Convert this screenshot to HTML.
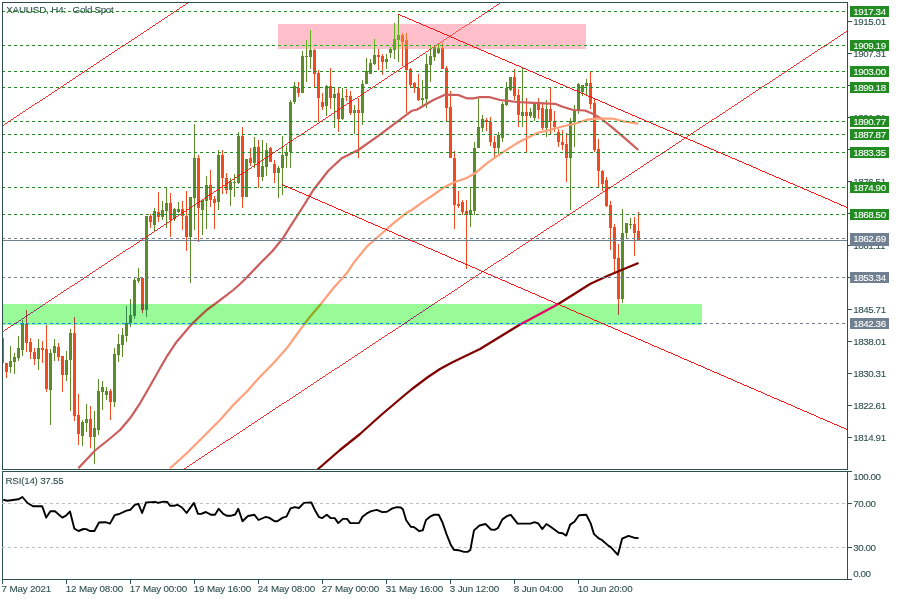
<!DOCTYPE html>
<html><head><meta charset="utf-8"><title>XAUUSD, H4</title>
<style>
html,body{margin:0;padding:0;background:#fff;}
svg{display:block}
text{font-family:"Liberation Sans",sans-serif;font-size:9.8px;letter-spacing:-0.42px;fill:#2f4f4f;stroke:#2f4f4f;stroke-width:0.1px}
.w{fill:#fff;stroke:#fff}
</style></head><body>
<svg width="900" height="600" viewBox="0 0 900 600">
<defs>
<clipPath id="cm"><rect x="3" y="3" width="844" height="466"/></clipPath>
<clipPath id="cg"><rect x="3" y="304" width="699" height="21"/></clipPath>
<clipPath id="cp"><rect x="278" y="24" width="308" height="25"/></clipPath>
</defs>
<rect width="900" height="600" fill="#fff"/>
<g shape-rendering="crispEdges">
<g clip-path="url(#cm)">

<g shape-rendering="auto"><text x="6.2" y="12.8" style="letter-spacing:-0.155px">XAUUSD, H4:</text><text x="72.6" y="12.8" style="letter-spacing:-0.31px">Gold Spot</text></g>
<rect x="2" y="338" width="1" height="25" fill="#f04a1e"/>
<rect x="1" y="338" width="3" height="25" fill="#f04a1e"/>
<rect x="6" y="363" width="1" height="15" fill="#f04a1e"/>
<rect x="5" y="363" width="3" height="9" fill="#f04a1e"/>
<rect x="10" y="346" width="1" height="27" fill="#5c8c28"/>
<rect x="9" y="361" width="3" height="6" fill="#5c8c28"/>
<rect x="14" y="353" width="1" height="21" fill="#5c8c28"/>
<rect x="13" y="357" width="3" height="5" fill="#5c8c28"/>
<rect x="18" y="336" width="1" height="25" fill="#5c8c28"/>
<rect x="17" y="348" width="3" height="10" fill="#5c8c28"/>
<rect x="22" y="320" width="1" height="36" fill="#5c8c28"/>
<rect x="21" y="323" width="3" height="27" fill="#5c8c28"/>
<rect x="26" y="310" width="1" height="42" fill="#f04a1e"/>
<rect x="25" y="324" width="3" height="19" fill="#f04a1e"/>
<rect x="30" y="338" width="1" height="21" fill="#f04a1e"/>
<rect x="29" y="342" width="3" height="10" fill="#f04a1e"/>
<rect x="34" y="348" width="1" height="17" fill="#f04a1e"/>
<rect x="33" y="352" width="3" height="7" fill="#f04a1e"/>
<rect x="38" y="339" width="1" height="31" fill="#5c8c28"/>
<rect x="37" y="348" width="3" height="11" fill="#5c8c28"/>
<rect x="42" y="341" width="1" height="22" fill="#f04a1e"/>
<rect x="41" y="348" width="3" height="2" fill="#f04a1e"/>
<rect x="46" y="325" width="1" height="67" fill="#f04a1e"/>
<rect x="45" y="349" width="3" height="40" fill="#f04a1e"/>
<rect x="50" y="349" width="1" height="76" fill="#5c8c28"/>
<rect x="49" y="353" width="3" height="37" fill="#5c8c28"/>
<rect x="54" y="339" width="1" height="22" fill="#5c8c28"/>
<rect x="53" y="346" width="3" height="7" fill="#5c8c28"/>
<rect x="58" y="343" width="1" height="18" fill="#f04a1e"/>
<rect x="57" y="347" width="3" height="10" fill="#f04a1e"/>
<rect x="62" y="356" width="1" height="36" fill="#f04a1e"/>
<rect x="61" y="356" width="3" height="19" fill="#f04a1e"/>
<rect x="66" y="351" width="1" height="30" fill="#5c8c28"/>
<rect x="65" y="360" width="3" height="15" fill="#5c8c28"/>
<rect x="70" y="329" width="1" height="82" fill="#5c8c28"/>
<rect x="69" y="333" width="3" height="27" fill="#5c8c28"/>
<rect x="74" y="317" width="1" height="104" fill="#f04a1e"/>
<rect x="73" y="333" width="3" height="83" fill="#f04a1e"/>
<rect x="78" y="394" width="1" height="51" fill="#f04a1e"/>
<rect x="77" y="415" width="3" height="19" fill="#f04a1e"/>
<rect x="82" y="420" width="1" height="26" fill="#5c8c28"/>
<rect x="81" y="422" width="3" height="14" fill="#5c8c28"/>
<rect x="86" y="404" width="1" height="28" fill="#5c8c28"/>
<rect x="85" y="419" width="3" height="4" fill="#5c8c28"/>
<rect x="90" y="406" width="1" height="42" fill="#f04a1e"/>
<rect x="89" y="419" width="3" height="18" fill="#f04a1e"/>
<rect x="94" y="411" width="1" height="53" fill="#5c8c28"/>
<rect x="93" y="428" width="3" height="9" fill="#5c8c28"/>
<rect x="98" y="379" width="1" height="56" fill="#5c8c28"/>
<rect x="97" y="391" width="3" height="39" fill="#5c8c28"/>
<rect x="102" y="381" width="1" height="29" fill="#5c8c28"/>
<rect x="101" y="387" width="3" height="5" fill="#5c8c28"/>
<rect x="106" y="387" width="1" height="13" fill="#5c8c28"/>
<rect x="105" y="391" width="3" height="4" fill="#5c8c28"/>
<rect x="110" y="389" width="1" height="31" fill="#f04a1e"/>
<rect x="109" y="391" width="3" height="11" fill="#f04a1e"/>
<rect x="114" y="348" width="1" height="59" fill="#5c8c28"/>
<rect x="113" y="354" width="3" height="48" fill="#5c8c28"/>
<rect x="118" y="334" width="1" height="28" fill="#5c8c28"/>
<rect x="117" y="344" width="3" height="11" fill="#5c8c28"/>
<rect x="122" y="328" width="1" height="29" fill="#5c8c28"/>
<rect x="121" y="335" width="3" height="10" fill="#5c8c28"/>
<rect x="126" y="306" width="1" height="36" fill="#5c8c28"/>
<rect x="125" y="323" width="3" height="13" fill="#5c8c28"/>
<rect x="130" y="299" width="1" height="28" fill="#5c8c28"/>
<rect x="129" y="315" width="3" height="8" fill="#5c8c28"/>
<rect x="134" y="278" width="1" height="41" fill="#5c8c28"/>
<rect x="133" y="280" width="3" height="36" fill="#5c8c28"/>
<rect x="138" y="268" width="1" height="15" fill="#5c8c28"/>
<rect x="137" y="278" width="3" height="3" fill="#5c8c28"/>
<rect x="142" y="278" width="1" height="35" fill="#f04a1e"/>
<rect x="141" y="278" width="3" height="32" fill="#f04a1e"/>
<rect x="146" y="216" width="1" height="101" fill="#5c8c28"/>
<rect x="145" y="216" width="3" height="94" fill="#5c8c28"/>
<rect x="150" y="214" width="1" height="14" fill="#f04a1e"/>
<rect x="149" y="216" width="3" height="6" fill="#f04a1e"/>
<rect x="154" y="208" width="1" height="23" fill="#5c8c28"/>
<rect x="153" y="211" width="3" height="14" fill="#5c8c28"/>
<rect x="158" y="192" width="1" height="30" fill="#f04a1e"/>
<rect x="157" y="212" width="3" height="5" fill="#f04a1e"/>
<rect x="162" y="201" width="1" height="19" fill="#5c8c28"/>
<rect x="161" y="210" width="3" height="7" fill="#5c8c28"/>
<rect x="166" y="188" width="1" height="40" fill="#5c8c28"/>
<rect x="165" y="203" width="3" height="8" fill="#5c8c28"/>
<rect x="170" y="193" width="1" height="44" fill="#f04a1e"/>
<rect x="169" y="203" width="3" height="17" fill="#f04a1e"/>
<rect x="174" y="208" width="1" height="13" fill="#5c8c28"/>
<rect x="173" y="209" width="3" height="10" fill="#5c8c28"/>
<rect x="178" y="202" width="1" height="11" fill="#5c8c28"/>
<rect x="177" y="209" width="3" height="3" fill="#5c8c28"/>
<rect x="182" y="201" width="1" height="29" fill="#f04a1e"/>
<rect x="181" y="209" width="3" height="7" fill="#f04a1e"/>
<rect x="186" y="191" width="1" height="60" fill="#f04a1e"/>
<rect x="185" y="216" width="3" height="21" fill="#f04a1e"/>
<rect x="190" y="197" width="1" height="86" fill="#5c8c28"/>
<rect x="189" y="197" width="3" height="40" fill="#5c8c28"/>
<rect x="194" y="124" width="1" height="106" fill="#5c8c28"/>
<rect x="193" y="158" width="3" height="40" fill="#5c8c28"/>
<rect x="198" y="155" width="1" height="87" fill="#f04a1e"/>
<rect x="197" y="158" width="3" height="50" fill="#f04a1e"/>
<rect x="202" y="200" width="1" height="35" fill="#5c8c28"/>
<rect x="201" y="200" width="3" height="10" fill="#5c8c28"/>
<rect x="206" y="176" width="1" height="53" fill="#5c8c28"/>
<rect x="205" y="185" width="3" height="16" fill="#5c8c28"/>
<rect x="210" y="170" width="1" height="37" fill="#f04a1e"/>
<rect x="209" y="185" width="3" height="15" fill="#f04a1e"/>
<rect x="214" y="196" width="1" height="33" fill="#f04a1e"/>
<rect x="213" y="199" width="3" height="4" fill="#f04a1e"/>
<rect x="218" y="150" width="1" height="60" fill="#5c8c28"/>
<rect x="217" y="155" width="3" height="47" fill="#5c8c28"/>
<rect x="222" y="150" width="1" height="44" fill="#f04a1e"/>
<rect x="221" y="155" width="3" height="23" fill="#f04a1e"/>
<rect x="226" y="173" width="1" height="21" fill="#f04a1e"/>
<rect x="225" y="178" width="3" height="12" fill="#f04a1e"/>
<rect x="230" y="178" width="1" height="28" fill="#5c8c28"/>
<rect x="229" y="182" width="3" height="8" fill="#5c8c28"/>
<rect x="234" y="174" width="1" height="23" fill="#5c8c28"/>
<rect x="233" y="182" width="3" height="1" fill="#5c8c28"/>
<rect x="238" y="132" width="1" height="52" fill="#5c8c28"/>
<rect x="237" y="136" width="3" height="47" fill="#5c8c28"/>
<rect x="242" y="127" width="1" height="81" fill="#f04a1e"/>
<rect x="241" y="136" width="3" height="61" fill="#f04a1e"/>
<rect x="246" y="159" width="1" height="38" fill="#5c8c28"/>
<rect x="245" y="159" width="3" height="38" fill="#5c8c28"/>
<rect x="250" y="148" width="1" height="18" fill="#f04a1e"/>
<rect x="249" y="158" width="3" height="5" fill="#f04a1e"/>
<rect x="254" y="137" width="1" height="31" fill="#5c8c28"/>
<rect x="253" y="147" width="3" height="16" fill="#5c8c28"/>
<rect x="258" y="140" width="1" height="48" fill="#f04a1e"/>
<rect x="257" y="147" width="3" height="30" fill="#f04a1e"/>
<rect x="262" y="140" width="1" height="41" fill="#5c8c28"/>
<rect x="261" y="166" width="3" height="11" fill="#5c8c28"/>
<rect x="266" y="143" width="1" height="33" fill="#5c8c28"/>
<rect x="265" y="150" width="3" height="17" fill="#5c8c28"/>
<rect x="270" y="147" width="1" height="15" fill="#f04a1e"/>
<rect x="269" y="148" width="3" height="14" fill="#f04a1e"/>
<rect x="274" y="160" width="1" height="23" fill="#f04a1e"/>
<rect x="273" y="164" width="3" height="9" fill="#f04a1e"/>
<rect x="278" y="166" width="1" height="32" fill="#5c8c28"/>
<rect x="277" y="168" width="3" height="5" fill="#5c8c28"/>
<rect x="282" y="136" width="1" height="59" fill="#5c8c28"/>
<rect x="281" y="155" width="3" height="13" fill="#5c8c28"/>
<rect x="286" y="146" width="1" height="22" fill="#5c8c28"/>
<rect x="285" y="152" width="3" height="4" fill="#5c8c28"/>
<rect x="290" y="100" width="1" height="68" fill="#5c8c28"/>
<rect x="289" y="102" width="3" height="50" fill="#5c8c28"/>
<rect x="294" y="82" width="1" height="22" fill="#5c8c28"/>
<rect x="293" y="86" width="3" height="16" fill="#5c8c28"/>
<rect x="298" y="82" width="1" height="15" fill="#f04a1e"/>
<rect x="297" y="88" width="3" height="5" fill="#f04a1e"/>
<rect x="302" y="51" width="1" height="42" fill="#5c8c28"/>
<rect x="301" y="56" width="3" height="37" fill="#5c8c28"/>
<rect x="306" y="40" width="1" height="42" fill="#5c8c28"/>
<rect x="305" y="56" width="3" height="1" fill="#5c8c28"/>
<rect x="310" y="30" width="1" height="39" fill="#5c8c28"/>
<rect x="309" y="50" width="3" height="7" fill="#5c8c28"/>
<rect x="314" y="49" width="1" height="39" fill="#f04a1e"/>
<rect x="313" y="50" width="3" height="24" fill="#f04a1e"/>
<rect x="318" y="70" width="1" height="52" fill="#f04a1e"/>
<rect x="317" y="73" width="3" height="25" fill="#f04a1e"/>
<rect x="322" y="93" width="1" height="17" fill="#f04a1e"/>
<rect x="321" y="102" width="3" height="5" fill="#f04a1e"/>
<rect x="326" y="85" width="1" height="31" fill="#5c8c28"/>
<rect x="325" y="86" width="3" height="20" fill="#5c8c28"/>
<rect x="330" y="68" width="1" height="41" fill="#f04a1e"/>
<rect x="329" y="86" width="3" height="12" fill="#f04a1e"/>
<rect x="334" y="88" width="1" height="40" fill="#5c8c28"/>
<rect x="333" y="94" width="3" height="4" fill="#5c8c28"/>
<rect x="338" y="88" width="1" height="44" fill="#f04a1e"/>
<rect x="337" y="93" width="3" height="26" fill="#f04a1e"/>
<rect x="342" y="88" width="1" height="32" fill="#5c8c28"/>
<rect x="341" y="98" width="3" height="21" fill="#5c8c28"/>
<rect x="346" y="89" width="1" height="12" fill="#f04a1e"/>
<rect x="345" y="96" width="3" height="1" fill="#f04a1e"/>
<rect x="350" y="91" width="1" height="24" fill="#f04a1e"/>
<rect x="349" y="96" width="3" height="17" fill="#f04a1e"/>
<rect x="354" y="105" width="1" height="29" fill="#5c8c28"/>
<rect x="353" y="110" width="3" height="3" fill="#5c8c28"/>
<rect x="358" y="98" width="1" height="60" fill="#f04a1e"/>
<rect x="357" y="110" width="3" height="3" fill="#f04a1e"/>
<rect x="362" y="80" width="1" height="45" fill="#5c8c28"/>
<rect x="361" y="84" width="3" height="29" fill="#5c8c28"/>
<rect x="366" y="58" width="1" height="26" fill="#5c8c28"/>
<rect x="365" y="71" width="3" height="13" fill="#5c8c28"/>
<rect x="370" y="59" width="1" height="15" fill="#5c8c28"/>
<rect x="369" y="63" width="3" height="11" fill="#5c8c28"/>
<rect x="374" y="39" width="1" height="26" fill="#5c8c28"/>
<rect x="373" y="55" width="3" height="9" fill="#5c8c28"/>
<rect x="378" y="49" width="1" height="21" fill="#f04a1e"/>
<rect x="377" y="55" width="3" height="2" fill="#f04a1e"/>
<rect x="382" y="54" width="1" height="21" fill="#f04a1e"/>
<rect x="381" y="56" width="3" height="6" fill="#f04a1e"/>
<rect x="386" y="54" width="1" height="15" fill="#5c8c28"/>
<rect x="385" y="59" width="3" height="3" fill="#5c8c28"/>
<rect x="390" y="47" width="1" height="11" fill="#5c8c28"/>
<rect x="389" y="49" width="3" height="4" fill="#5c8c28"/>
<rect x="394" y="23" width="1" height="36" fill="#5c8c28"/>
<rect x="393" y="39" width="3" height="11" fill="#5c8c28"/>
<rect x="398" y="14" width="1" height="48" fill="#5c8c28"/>
<rect x="397" y="35" width="3" height="5" fill="#5c8c28"/>
<rect x="402" y="33" width="1" height="33" fill="#f04a1e"/>
<rect x="401" y="35" width="3" height="7" fill="#f04a1e"/>
<rect x="406" y="33" width="1" height="80" fill="#f04a1e"/>
<rect x="405" y="40" width="3" height="30" fill="#f04a1e"/>
<rect x="410" y="68" width="1" height="20" fill="#f04a1e"/>
<rect x="409" y="69" width="3" height="16" fill="#f04a1e"/>
<rect x="414" y="82" width="1" height="11" fill="#f04a1e"/>
<rect x="413" y="83" width="3" height="5" fill="#f04a1e"/>
<rect x="418" y="74" width="1" height="27" fill="#f04a1e"/>
<rect x="417" y="88" width="3" height="12" fill="#f04a1e"/>
<rect x="422" y="80" width="1" height="25" fill="#5c8c28"/>
<rect x="421" y="98" width="3" height="2" fill="#5c8c28"/>
<rect x="426" y="54" width="1" height="54" fill="#5c8c28"/>
<rect x="425" y="64" width="3" height="35" fill="#5c8c28"/>
<rect x="430" y="45" width="1" height="37" fill="#5c8c28"/>
<rect x="429" y="56" width="3" height="9" fill="#5c8c28"/>
<rect x="434" y="45" width="1" height="16" fill="#5c8c28"/>
<rect x="433" y="47" width="3" height="10" fill="#5c8c28"/>
<rect x="438" y="44" width="1" height="10" fill="#5c8c28"/>
<rect x="437" y="48" width="3" height="5" fill="#5c8c28"/>
<rect x="442" y="43" width="1" height="26" fill="#f04a1e"/>
<rect x="441" y="48" width="3" height="21" fill="#f04a1e"/>
<rect x="446" y="66" width="1" height="56" fill="#f04a1e"/>
<rect x="445" y="68" width="3" height="40" fill="#f04a1e"/>
<rect x="450" y="91" width="1" height="67" fill="#f04a1e"/>
<rect x="449" y="107" width="3" height="51" fill="#f04a1e"/>
<rect x="454" y="151" width="1" height="78" fill="#f04a1e"/>
<rect x="453" y="158" width="3" height="47" fill="#f04a1e"/>
<rect x="458" y="191" width="1" height="17" fill="#f04a1e"/>
<rect x="457" y="204" width="3" height="2" fill="#f04a1e"/>
<rect x="462" y="200" width="1" height="15" fill="#f04a1e"/>
<rect x="461" y="202" width="3" height="10" fill="#f04a1e"/>
<rect x="466" y="200" width="1" height="69" fill="#f04a1e"/>
<rect x="465" y="211" width="3" height="4" fill="#f04a1e"/>
<rect x="470" y="188" width="1" height="39" fill="#5c8c28"/>
<rect x="469" y="210" width="3" height="5" fill="#5c8c28"/>
<rect x="474" y="142" width="1" height="73" fill="#5c8c28"/>
<rect x="473" y="148" width="3" height="63" fill="#5c8c28"/>
<rect x="478" y="98" width="1" height="50" fill="#5c8c28"/>
<rect x="477" y="127" width="3" height="21" fill="#5c8c28"/>
<rect x="482" y="115" width="1" height="17" fill="#5c8c28"/>
<rect x="481" y="119" width="3" height="9" fill="#5c8c28"/>
<rect x="486" y="118" width="1" height="13" fill="#f04a1e"/>
<rect x="485" y="120" width="3" height="2" fill="#f04a1e"/>
<rect x="490" y="117" width="1" height="29" fill="#f04a1e"/>
<rect x="489" y="122" width="3" height="20" fill="#f04a1e"/>
<rect x="494" y="136" width="1" height="22" fill="#f04a1e"/>
<rect x="493" y="142" width="3" height="6" fill="#f04a1e"/>
<rect x="498" y="132" width="1" height="23" fill="#5c8c28"/>
<rect x="497" y="135" width="3" height="13" fill="#5c8c28"/>
<rect x="502" y="102" width="1" height="40" fill="#5c8c28"/>
<rect x="501" y="104" width="3" height="34" fill="#5c8c28"/>
<rect x="506" y="82" width="1" height="24" fill="#5c8c28"/>
<rect x="505" y="88" width="3" height="17" fill="#5c8c28"/>
<rect x="510" y="77" width="1" height="14" fill="#5c8c28"/>
<rect x="509" y="77" width="3" height="13" fill="#5c8c28"/>
<rect x="514" y="69" width="1" height="31" fill="#f04a1e"/>
<rect x="513" y="77" width="3" height="19" fill="#f04a1e"/>
<rect x="518" y="89" width="1" height="38" fill="#f04a1e"/>
<rect x="517" y="95" width="3" height="20" fill="#f04a1e"/>
<rect x="522" y="68" width="1" height="59" fill="#5c8c28"/>
<rect x="521" y="112" width="3" height="4" fill="#5c8c28"/>
<rect x="526" y="98" width="1" height="54" fill="#f04a1e"/>
<rect x="525" y="112" width="3" height="4" fill="#f04a1e"/>
<rect x="530" y="108" width="1" height="10" fill="#5c8c28"/>
<rect x="529" y="112" width="3" height="4" fill="#5c8c28"/>
<rect x="534" y="104" width="1" height="17" fill="#5c8c28"/>
<rect x="533" y="104" width="3" height="14" fill="#5c8c28"/>
<rect x="538" y="98" width="1" height="21" fill="#f04a1e"/>
<rect x="537" y="103" width="3" height="7" fill="#f04a1e"/>
<rect x="542" y="104" width="1" height="26" fill="#f04a1e"/>
<rect x="541" y="108" width="3" height="20" fill="#f04a1e"/>
<rect x="546" y="100" width="1" height="37" fill="#5c8c28"/>
<rect x="545" y="109" width="3" height="19" fill="#5c8c28"/>
<rect x="550" y="88" width="1" height="46" fill="#f04a1e"/>
<rect x="549" y="109" width="3" height="12" fill="#f04a1e"/>
<rect x="554" y="111" width="1" height="21" fill="#f04a1e"/>
<rect x="553" y="121" width="3" height="6" fill="#f04a1e"/>
<rect x="558" y="129" width="1" height="18" fill="#f04a1e"/>
<rect x="557" y="132" width="3" height="10" fill="#f04a1e"/>
<rect x="562" y="130" width="1" height="20" fill="#f04a1e"/>
<rect x="561" y="142" width="3" height="3" fill="#f04a1e"/>
<rect x="566" y="133" width="1" height="49" fill="#f04a1e"/>
<rect x="565" y="144" width="3" height="14" fill="#f04a1e"/>
<rect x="570" y="118" width="1" height="92" fill="#5c8c28"/>
<rect x="569" y="121" width="3" height="37" fill="#5c8c28"/>
<rect x="574" y="105" width="1" height="42" fill="#5c8c28"/>
<rect x="573" y="111" width="3" height="11" fill="#5c8c28"/>
<rect x="578" y="83" width="1" height="31" fill="#5c8c28"/>
<rect x="577" y="84" width="3" height="27" fill="#5c8c28"/>
<rect x="582" y="85" width="1" height="11" fill="#5c8c28"/>
<rect x="581" y="85" width="3" height="7" fill="#5c8c28"/>
<rect x="586" y="79" width="1" height="16" fill="#5c8c28"/>
<rect x="585" y="83" width="3" height="3" fill="#5c8c28"/>
<rect x="590" y="72" width="1" height="37" fill="#f04a1e"/>
<rect x="589" y="83" width="3" height="21" fill="#f04a1e"/>
<rect x="594" y="99" width="1" height="53" fill="#f04a1e"/>
<rect x="593" y="103" width="3" height="47" fill="#f04a1e"/>
<rect x="598" y="139" width="1" height="49" fill="#f04a1e"/>
<rect x="597" y="149" width="3" height="22" fill="#f04a1e"/>
<rect x="602" y="170" width="1" height="21" fill="#f04a1e"/>
<rect x="601" y="171" width="3" height="13" fill="#f04a1e"/>
<rect x="606" y="177" width="1" height="30" fill="#f04a1e"/>
<rect x="605" y="180" width="3" height="26" fill="#f04a1e"/>
<rect x="610" y="201" width="1" height="49" fill="#f04a1e"/>
<rect x="609" y="205" width="3" height="23" fill="#f04a1e"/>
<rect x="614" y="224" width="1" height="48" fill="#f04a1e"/>
<rect x="613" y="227" width="3" height="32" fill="#f04a1e"/>
<rect x="618" y="244" width="1" height="71" fill="#f04a1e"/>
<rect x="617" y="258" width="3" height="41" fill="#f04a1e"/>
<rect x="622" y="209" width="1" height="94" fill="#5c8c28"/>
<rect x="621" y="233" width="3" height="66" fill="#5c8c28"/>
<rect x="626" y="223" width="1" height="15" fill="#5c8c28"/>
<rect x="625" y="223" width="3" height="10" fill="#5c8c28"/>
<rect x="630" y="218" width="1" height="11" fill="#5c8c28"/>
<rect x="629" y="224" width="3" height="1" fill="#5c8c28"/>
<rect x="634" y="217" width="1" height="39" fill="#f04a1e"/>
<rect x="633" y="224" width="3" height="9" fill="#f04a1e"/>
<rect x="638" y="212" width="1" height="28" fill="#f04a1e"/>
<rect x="637" y="231" width="3" height="9" fill="#f04a1e"/>
<polyline points="78.3,468.3 95.0,450.5 110.0,438.5 120.0,430.0 130.0,418.3 140.0,403.3 150.0,386.0 160.0,368.3 166.7,356.7 176.7,341.7 186.7,330.0 193.3,322.6 206.7,310.0 218.3,301.5 233.3,290.0 240.0,284.0 245.0,279.3 260.0,263.5 272.0,251.5 282.5,238.8 290.0,226.8 298.3,214.0 305.0,203.5 313.3,190.0 328.3,170.8 341.7,158.3 358.3,150.0 378.3,135.8 400.0,119.6 411.7,110.8 416.7,109.7 433.3,100.0 445.0,94.7 458.3,95.0 466.7,98.3 473.3,98.3 480.0,97.0 490.0,97.2 500.0,100.0 516.7,102.0 533.3,102.8 555.0,103.8 563.3,107.0 573.3,110.0 585.0,110.5 593.3,114.0 601.7,119.0 613.3,128.3 625.0,138.3 638.3,150.0" stroke="#cd5c5c" stroke-width="2.2" fill="none" stroke-linejoin="round" shape-rendering="geometricPrecision"/>
<polyline points="170.0,468.3 186.7,453.3 203.3,436.7 220.0,420.0 233.3,405.0 246.7,391.7 260.0,376.7 273.3,363.3 286.7,348.3 300.0,330.0 310.0,316.7 320.0,305.0 333.3,288.3 346.7,273.3 353.3,263.3 366.7,246.7 380.0,235.0 393.3,223.3 406.7,212.7 411.7,210.0 423.3,201.7 433.3,195.0 445.0,186.7 455.0,182.0 466.7,178.0 475.0,173.3 486.7,163.3 500.0,154.2 516.7,143.3 526.7,138.3 538.3,132.5 546.7,130.8 563.3,126.3 576.7,123.3 586.7,119.7 596.7,118.7 613.3,118.7 623.3,121.3 638.3,123.7" stroke="#ffa07a" stroke-width="2.2" fill="none" stroke-linejoin="round" shape-rendering="geometricPrecision"/>
<polyline points="317.5,469.5 340.0,450.0 360.0,434.0 380.0,416.0 400.0,399.0 412.0,389.0 428.0,377.0 440.0,369.0 452.0,362.4 466.0,355.7 480.0,349.0 500.0,336.7 520.0,324.5 530.0,319.3 545.0,311.3 558.7,303.8 575.0,293.5 590.0,284.0 606.7,276.3 623.3,269.3 638.5,263.0" stroke="#800000" stroke-width="2.25" fill="none" stroke-linejoin="round" shape-rendering="geometricPrecision"/>
<path d="M2 11.5H847" stroke="#228b22" stroke-dasharray="3 3" fill="none"/>
<path d="M2 45.5H847" stroke="#228b22" stroke-dasharray="3 3" fill="none"/>
<path d="M2 71.5H847" stroke="#228b22" stroke-dasharray="3 3" fill="none"/>
<path d="M2 87.5H847" stroke="#228b22" stroke-dasharray="3 3" fill="none"/>
<path d="M2 121.5H847" stroke="#228b22" stroke-dasharray="3 3" fill="none"/>
<path d="M2 134.5H847" stroke="#228b22" stroke-dasharray="3 3" fill="none"/>
<path d="M2 152.5H847" stroke="#228b22" stroke-dasharray="3 3" fill="none"/>
<path d="M2 187.5H847" stroke="#228b22" stroke-dasharray="3 3" fill="none"/>
<path d="M2 214.5H847" stroke="#228b22" stroke-dasharray="3 3" fill="none"/>
<path d="M2 238.5H847" stroke="#708090" stroke-dasharray="3 3" fill="none"/>
<path d="M2 277.5H847" stroke="#708090" stroke-dasharray="3 3" fill="none"/>
<path d="M2 323.5H847" stroke="#708090" stroke-dasharray="3 3" fill="none"/>
<rect x="3" y="240" width="844" height="1" fill="#708090"/>
<path d="M2 126.2L189.4 2.0" stroke="#ff0000" stroke-width="0.834" fill="none"/>
<path d="M2 332.26L503 1.22" stroke="#ff0000" stroke-width="0.834" fill="none"/>
<path d="M182 470.38L847 31.17" stroke="#ff0000" stroke-width="0.834" fill="none"/>
<rect x="3" y="304" width="699" height="21" fill="#98fb98"/>
<g clip-path="url(#cg)"><rect x="2" y="338" width="1" height="25" fill="#a5443e"/>
<rect x="1" y="338" width="3" height="25" fill="#a5443e"/>
<rect x="6" y="363" width="1" height="15" fill="#a5443e"/>
<rect x="5" y="363" width="3" height="9" fill="#a5443e"/>
<rect x="10" y="346" width="1" height="27" fill="#3b884f"/>
<rect x="9" y="361" width="3" height="6" fill="#3b884f"/>
<rect x="14" y="353" width="1" height="21" fill="#3b884f"/>
<rect x="13" y="357" width="3" height="5" fill="#3b884f"/>
<rect x="18" y="336" width="1" height="25" fill="#3b884f"/>
<rect x="17" y="348" width="3" height="10" fill="#3b884f"/>
<rect x="22" y="320" width="1" height="36" fill="#3b884f"/>
<rect x="21" y="323" width="3" height="27" fill="#3b884f"/>
<rect x="26" y="310" width="1" height="42" fill="#a5443e"/>
<rect x="25" y="324" width="3" height="19" fill="#a5443e"/>
<rect x="30" y="338" width="1" height="21" fill="#a5443e"/>
<rect x="29" y="342" width="3" height="10" fill="#a5443e"/>
<rect x="34" y="348" width="1" height="17" fill="#a5443e"/>
<rect x="33" y="352" width="3" height="7" fill="#a5443e"/>
<rect x="38" y="339" width="1" height="31" fill="#3b884f"/>
<rect x="37" y="348" width="3" height="11" fill="#3b884f"/>
<rect x="42" y="341" width="1" height="22" fill="#a5443e"/>
<rect x="41" y="348" width="3" height="2" fill="#a5443e"/>
<rect x="46" y="325" width="1" height="67" fill="#a5443e"/>
<rect x="45" y="349" width="3" height="40" fill="#a5443e"/>
<rect x="50" y="349" width="1" height="76" fill="#3b884f"/>
<rect x="49" y="353" width="3" height="37" fill="#3b884f"/>
<rect x="54" y="339" width="1" height="22" fill="#3b884f"/>
<rect x="53" y="346" width="3" height="7" fill="#3b884f"/>
<rect x="58" y="343" width="1" height="18" fill="#a5443e"/>
<rect x="57" y="347" width="3" height="10" fill="#a5443e"/>
<rect x="62" y="356" width="1" height="36" fill="#a5443e"/>
<rect x="61" y="356" width="3" height="19" fill="#a5443e"/>
<rect x="66" y="351" width="1" height="30" fill="#3b884f"/>
<rect x="65" y="360" width="3" height="15" fill="#3b884f"/>
<rect x="70" y="329" width="1" height="82" fill="#3b884f"/>
<rect x="69" y="333" width="3" height="27" fill="#3b884f"/>
<rect x="74" y="317" width="1" height="104" fill="#a5443e"/>
<rect x="73" y="333" width="3" height="83" fill="#a5443e"/>
<rect x="78" y="394" width="1" height="51" fill="#a5443e"/>
<rect x="77" y="415" width="3" height="19" fill="#a5443e"/>
<rect x="82" y="420" width="1" height="26" fill="#3b884f"/>
<rect x="81" y="422" width="3" height="14" fill="#3b884f"/>
<rect x="86" y="404" width="1" height="28" fill="#3b884f"/>
<rect x="85" y="419" width="3" height="4" fill="#3b884f"/>
<rect x="90" y="406" width="1" height="42" fill="#a5443e"/>
<rect x="89" y="419" width="3" height="18" fill="#a5443e"/>
<rect x="94" y="411" width="1" height="53" fill="#3b884f"/>
<rect x="93" y="428" width="3" height="9" fill="#3b884f"/>
<rect x="98" y="379" width="1" height="56" fill="#3b884f"/>
<rect x="97" y="391" width="3" height="39" fill="#3b884f"/>
<rect x="102" y="381" width="1" height="29" fill="#3b884f"/>
<rect x="101" y="387" width="3" height="5" fill="#3b884f"/>
<rect x="106" y="387" width="1" height="13" fill="#3b884f"/>
<rect x="105" y="391" width="3" height="4" fill="#3b884f"/>
<rect x="110" y="389" width="1" height="31" fill="#a5443e"/>
<rect x="109" y="391" width="3" height="11" fill="#a5443e"/>
<rect x="114" y="348" width="1" height="59" fill="#3b884f"/>
<rect x="113" y="354" width="3" height="48" fill="#3b884f"/>
<rect x="118" y="334" width="1" height="28" fill="#3b884f"/>
<rect x="117" y="344" width="3" height="11" fill="#3b884f"/>
<rect x="122" y="328" width="1" height="29" fill="#3b884f"/>
<rect x="121" y="335" width="3" height="10" fill="#3b884f"/>
<rect x="126" y="306" width="1" height="36" fill="#3b884f"/>
<rect x="125" y="323" width="3" height="13" fill="#3b884f"/>
<rect x="130" y="299" width="1" height="28" fill="#3b884f"/>
<rect x="129" y="315" width="3" height="8" fill="#3b884f"/>
<rect x="134" y="278" width="1" height="41" fill="#3b884f"/>
<rect x="133" y="280" width="3" height="36" fill="#3b884f"/>
<rect x="138" y="268" width="1" height="15" fill="#3b884f"/>
<rect x="137" y="278" width="3" height="3" fill="#3b884f"/>
<rect x="142" y="278" width="1" height="35" fill="#a5443e"/>
<rect x="141" y="278" width="3" height="32" fill="#a5443e"/>
<rect x="146" y="216" width="1" height="101" fill="#3b884f"/>
<rect x="145" y="216" width="3" height="94" fill="#3b884f"/>
<rect x="150" y="214" width="1" height="14" fill="#a5443e"/>
<rect x="149" y="216" width="3" height="6" fill="#a5443e"/>
<rect x="154" y="208" width="1" height="23" fill="#3b884f"/>
<rect x="153" y="211" width="3" height="14" fill="#3b884f"/>
<rect x="158" y="192" width="1" height="30" fill="#a5443e"/>
<rect x="157" y="212" width="3" height="5" fill="#a5443e"/>
<rect x="162" y="201" width="1" height="19" fill="#3b884f"/>
<rect x="161" y="210" width="3" height="7" fill="#3b884f"/>
<rect x="166" y="188" width="1" height="40" fill="#3b884f"/>
<rect x="165" y="203" width="3" height="8" fill="#3b884f"/>
<rect x="170" y="193" width="1" height="44" fill="#a5443e"/>
<rect x="169" y="203" width="3" height="17" fill="#a5443e"/>
<rect x="174" y="208" width="1" height="13" fill="#3b884f"/>
<rect x="173" y="209" width="3" height="10" fill="#3b884f"/>
<rect x="178" y="202" width="1" height="11" fill="#3b884f"/>
<rect x="177" y="209" width="3" height="3" fill="#3b884f"/>
<rect x="182" y="201" width="1" height="29" fill="#a5443e"/>
<rect x="181" y="209" width="3" height="7" fill="#a5443e"/>
<rect x="186" y="191" width="1" height="60" fill="#a5443e"/>
<rect x="185" y="216" width="3" height="21" fill="#a5443e"/>
<rect x="190" y="197" width="1" height="86" fill="#3b884f"/>
<rect x="189" y="197" width="3" height="40" fill="#3b884f"/>
<rect x="194" y="124" width="1" height="106" fill="#3b884f"/>
<rect x="193" y="158" width="3" height="40" fill="#3b884f"/>
<rect x="198" y="155" width="1" height="87" fill="#a5443e"/>
<rect x="197" y="158" width="3" height="50" fill="#a5443e"/>
<rect x="202" y="200" width="1" height="35" fill="#3b884f"/>
<rect x="201" y="200" width="3" height="10" fill="#3b884f"/>
<rect x="206" y="176" width="1" height="53" fill="#3b884f"/>
<rect x="205" y="185" width="3" height="16" fill="#3b884f"/>
<rect x="210" y="170" width="1" height="37" fill="#a5443e"/>
<rect x="209" y="185" width="3" height="15" fill="#a5443e"/>
<rect x="214" y="196" width="1" height="33" fill="#a5443e"/>
<rect x="213" y="199" width="3" height="4" fill="#a5443e"/>
<rect x="218" y="150" width="1" height="60" fill="#3b884f"/>
<rect x="217" y="155" width="3" height="47" fill="#3b884f"/>
<rect x="222" y="150" width="1" height="44" fill="#a5443e"/>
<rect x="221" y="155" width="3" height="23" fill="#a5443e"/>
<rect x="226" y="173" width="1" height="21" fill="#a5443e"/>
<rect x="225" y="178" width="3" height="12" fill="#a5443e"/>
<rect x="230" y="178" width="1" height="28" fill="#3b884f"/>
<rect x="229" y="182" width="3" height="8" fill="#3b884f"/>
<rect x="234" y="174" width="1" height="23" fill="#3b884f"/>
<rect x="233" y="182" width="3" height="1" fill="#3b884f"/>
<rect x="238" y="132" width="1" height="52" fill="#3b884f"/>
<rect x="237" y="136" width="3" height="47" fill="#3b884f"/>
<rect x="242" y="127" width="1" height="81" fill="#a5443e"/>
<rect x="241" y="136" width="3" height="61" fill="#a5443e"/>
<rect x="246" y="159" width="1" height="38" fill="#3b884f"/>
<rect x="245" y="159" width="3" height="38" fill="#3b884f"/>
<rect x="250" y="148" width="1" height="18" fill="#a5443e"/>
<rect x="249" y="158" width="3" height="5" fill="#a5443e"/>
<rect x="254" y="137" width="1" height="31" fill="#3b884f"/>
<rect x="253" y="147" width="3" height="16" fill="#3b884f"/>
<rect x="258" y="140" width="1" height="48" fill="#a5443e"/>
<rect x="257" y="147" width="3" height="30" fill="#a5443e"/>
<rect x="262" y="140" width="1" height="41" fill="#3b884f"/>
<rect x="261" y="166" width="3" height="11" fill="#3b884f"/>
<rect x="266" y="143" width="1" height="33" fill="#3b884f"/>
<rect x="265" y="150" width="3" height="17" fill="#3b884f"/>
<rect x="270" y="147" width="1" height="15" fill="#a5443e"/>
<rect x="269" y="148" width="3" height="14" fill="#a5443e"/>
<rect x="274" y="160" width="1" height="23" fill="#a5443e"/>
<rect x="273" y="164" width="3" height="9" fill="#a5443e"/>
<rect x="278" y="166" width="1" height="32" fill="#3b884f"/>
<rect x="277" y="168" width="3" height="5" fill="#3b884f"/>
<rect x="282" y="136" width="1" height="59" fill="#3b884f"/>
<rect x="281" y="155" width="3" height="13" fill="#3b884f"/>
<rect x="286" y="146" width="1" height="22" fill="#3b884f"/>
<rect x="285" y="152" width="3" height="4" fill="#3b884f"/>
<rect x="290" y="100" width="1" height="68" fill="#3b884f"/>
<rect x="289" y="102" width="3" height="50" fill="#3b884f"/>
<rect x="294" y="82" width="1" height="22" fill="#3b884f"/>
<rect x="293" y="86" width="3" height="16" fill="#3b884f"/>
<rect x="298" y="82" width="1" height="15" fill="#a5443e"/>
<rect x="297" y="88" width="3" height="5" fill="#a5443e"/>
<rect x="302" y="51" width="1" height="42" fill="#3b884f"/>
<rect x="301" y="56" width="3" height="37" fill="#3b884f"/>
<rect x="306" y="40" width="1" height="42" fill="#3b884f"/>
<rect x="305" y="56" width="3" height="1" fill="#3b884f"/>
<rect x="310" y="30" width="1" height="39" fill="#3b884f"/>
<rect x="309" y="50" width="3" height="7" fill="#3b884f"/>
<rect x="314" y="49" width="1" height="39" fill="#a5443e"/>
<rect x="313" y="50" width="3" height="24" fill="#a5443e"/>
<rect x="318" y="70" width="1" height="52" fill="#a5443e"/>
<rect x="317" y="73" width="3" height="25" fill="#a5443e"/>
<rect x="322" y="93" width="1" height="17" fill="#a5443e"/>
<rect x="321" y="102" width="3" height="5" fill="#a5443e"/>
<rect x="326" y="85" width="1" height="31" fill="#3b884f"/>
<rect x="325" y="86" width="3" height="20" fill="#3b884f"/>
<rect x="330" y="68" width="1" height="41" fill="#a5443e"/>
<rect x="329" y="86" width="3" height="12" fill="#a5443e"/>
<rect x="334" y="88" width="1" height="40" fill="#3b884f"/>
<rect x="333" y="94" width="3" height="4" fill="#3b884f"/>
<rect x="338" y="88" width="1" height="44" fill="#a5443e"/>
<rect x="337" y="93" width="3" height="26" fill="#a5443e"/>
<rect x="342" y="88" width="1" height="32" fill="#3b884f"/>
<rect x="341" y="98" width="3" height="21" fill="#3b884f"/>
<rect x="346" y="89" width="1" height="12" fill="#a5443e"/>
<rect x="345" y="96" width="3" height="1" fill="#a5443e"/>
<rect x="350" y="91" width="1" height="24" fill="#a5443e"/>
<rect x="349" y="96" width="3" height="17" fill="#a5443e"/>
<rect x="354" y="105" width="1" height="29" fill="#3b884f"/>
<rect x="353" y="110" width="3" height="3" fill="#3b884f"/>
<rect x="358" y="98" width="1" height="60" fill="#a5443e"/>
<rect x="357" y="110" width="3" height="3" fill="#a5443e"/>
<rect x="362" y="80" width="1" height="45" fill="#3b884f"/>
<rect x="361" y="84" width="3" height="29" fill="#3b884f"/>
<rect x="366" y="58" width="1" height="26" fill="#3b884f"/>
<rect x="365" y="71" width="3" height="13" fill="#3b884f"/>
<rect x="370" y="59" width="1" height="15" fill="#3b884f"/>
<rect x="369" y="63" width="3" height="11" fill="#3b884f"/>
<rect x="374" y="39" width="1" height="26" fill="#3b884f"/>
<rect x="373" y="55" width="3" height="9" fill="#3b884f"/>
<rect x="378" y="49" width="1" height="21" fill="#a5443e"/>
<rect x="377" y="55" width="3" height="2" fill="#a5443e"/>
<rect x="382" y="54" width="1" height="21" fill="#a5443e"/>
<rect x="381" y="56" width="3" height="6" fill="#a5443e"/>
<rect x="386" y="54" width="1" height="15" fill="#3b884f"/>
<rect x="385" y="59" width="3" height="3" fill="#3b884f"/>
<rect x="390" y="47" width="1" height="11" fill="#3b884f"/>
<rect x="389" y="49" width="3" height="4" fill="#3b884f"/>
<rect x="394" y="23" width="1" height="36" fill="#3b884f"/>
<rect x="393" y="39" width="3" height="11" fill="#3b884f"/>
<rect x="398" y="14" width="1" height="48" fill="#3b884f"/>
<rect x="397" y="35" width="3" height="5" fill="#3b884f"/>
<rect x="402" y="33" width="1" height="33" fill="#a5443e"/>
<rect x="401" y="35" width="3" height="7" fill="#a5443e"/>
<rect x="406" y="33" width="1" height="80" fill="#a5443e"/>
<rect x="405" y="40" width="3" height="30" fill="#a5443e"/>
<rect x="410" y="68" width="1" height="20" fill="#a5443e"/>
<rect x="409" y="69" width="3" height="16" fill="#a5443e"/>
<rect x="414" y="82" width="1" height="11" fill="#a5443e"/>
<rect x="413" y="83" width="3" height="5" fill="#a5443e"/>
<rect x="418" y="74" width="1" height="27" fill="#a5443e"/>
<rect x="417" y="88" width="3" height="12" fill="#a5443e"/>
<rect x="422" y="80" width="1" height="25" fill="#3b884f"/>
<rect x="421" y="98" width="3" height="2" fill="#3b884f"/>
<rect x="426" y="54" width="1" height="54" fill="#3b884f"/>
<rect x="425" y="64" width="3" height="35" fill="#3b884f"/>
<rect x="430" y="45" width="1" height="37" fill="#3b884f"/>
<rect x="429" y="56" width="3" height="9" fill="#3b884f"/>
<rect x="434" y="45" width="1" height="16" fill="#3b884f"/>
<rect x="433" y="47" width="3" height="10" fill="#3b884f"/>
<rect x="438" y="44" width="1" height="10" fill="#3b884f"/>
<rect x="437" y="48" width="3" height="5" fill="#3b884f"/>
<rect x="442" y="43" width="1" height="26" fill="#a5443e"/>
<rect x="441" y="48" width="3" height="21" fill="#a5443e"/>
<rect x="446" y="66" width="1" height="56" fill="#a5443e"/>
<rect x="445" y="68" width="3" height="40" fill="#a5443e"/>
<rect x="450" y="91" width="1" height="67" fill="#a5443e"/>
<rect x="449" y="107" width="3" height="51" fill="#a5443e"/>
<rect x="454" y="151" width="1" height="78" fill="#a5443e"/>
<rect x="453" y="158" width="3" height="47" fill="#a5443e"/>
<rect x="458" y="191" width="1" height="17" fill="#a5443e"/>
<rect x="457" y="204" width="3" height="2" fill="#a5443e"/>
<rect x="462" y="200" width="1" height="15" fill="#a5443e"/>
<rect x="461" y="202" width="3" height="10" fill="#a5443e"/>
<rect x="466" y="200" width="1" height="69" fill="#a5443e"/>
<rect x="465" y="211" width="3" height="4" fill="#a5443e"/>
<rect x="470" y="188" width="1" height="39" fill="#3b884f"/>
<rect x="469" y="210" width="3" height="5" fill="#3b884f"/>
<rect x="474" y="142" width="1" height="73" fill="#3b884f"/>
<rect x="473" y="148" width="3" height="63" fill="#3b884f"/>
<rect x="478" y="98" width="1" height="50" fill="#3b884f"/>
<rect x="477" y="127" width="3" height="21" fill="#3b884f"/>
<rect x="482" y="115" width="1" height="17" fill="#3b884f"/>
<rect x="481" y="119" width="3" height="9" fill="#3b884f"/>
<rect x="486" y="118" width="1" height="13" fill="#a5443e"/>
<rect x="485" y="120" width="3" height="2" fill="#a5443e"/>
<rect x="490" y="117" width="1" height="29" fill="#a5443e"/>
<rect x="489" y="122" width="3" height="20" fill="#a5443e"/>
<rect x="494" y="136" width="1" height="22" fill="#a5443e"/>
<rect x="493" y="142" width="3" height="6" fill="#a5443e"/>
<rect x="498" y="132" width="1" height="23" fill="#3b884f"/>
<rect x="497" y="135" width="3" height="13" fill="#3b884f"/>
<rect x="502" y="102" width="1" height="40" fill="#3b884f"/>
<rect x="501" y="104" width="3" height="34" fill="#3b884f"/>
<rect x="506" y="82" width="1" height="24" fill="#3b884f"/>
<rect x="505" y="88" width="3" height="17" fill="#3b884f"/>
<rect x="510" y="77" width="1" height="14" fill="#3b884f"/>
<rect x="509" y="77" width="3" height="13" fill="#3b884f"/>
<rect x="514" y="69" width="1" height="31" fill="#a5443e"/>
<rect x="513" y="77" width="3" height="19" fill="#a5443e"/>
<rect x="518" y="89" width="1" height="38" fill="#a5443e"/>
<rect x="517" y="95" width="3" height="20" fill="#a5443e"/>
<rect x="522" y="68" width="1" height="59" fill="#3b884f"/>
<rect x="521" y="112" width="3" height="4" fill="#3b884f"/>
<rect x="526" y="98" width="1" height="54" fill="#a5443e"/>
<rect x="525" y="112" width="3" height="4" fill="#a5443e"/>
<rect x="530" y="108" width="1" height="10" fill="#3b884f"/>
<rect x="529" y="112" width="3" height="4" fill="#3b884f"/>
<rect x="534" y="104" width="1" height="17" fill="#3b884f"/>
<rect x="533" y="104" width="3" height="14" fill="#3b884f"/>
<rect x="538" y="98" width="1" height="21" fill="#a5443e"/>
<rect x="537" y="103" width="3" height="7" fill="#a5443e"/>
<rect x="542" y="104" width="1" height="26" fill="#a5443e"/>
<rect x="541" y="108" width="3" height="20" fill="#a5443e"/>
<rect x="546" y="100" width="1" height="37" fill="#3b884f"/>
<rect x="545" y="109" width="3" height="19" fill="#3b884f"/>
<rect x="550" y="88" width="1" height="46" fill="#a5443e"/>
<rect x="549" y="109" width="3" height="12" fill="#a5443e"/>
<rect x="554" y="111" width="1" height="21" fill="#a5443e"/>
<rect x="553" y="121" width="3" height="6" fill="#a5443e"/>
<rect x="558" y="129" width="1" height="18" fill="#a5443e"/>
<rect x="557" y="132" width="3" height="10" fill="#a5443e"/>
<rect x="562" y="130" width="1" height="20" fill="#a5443e"/>
<rect x="561" y="142" width="3" height="3" fill="#a5443e"/>
<rect x="566" y="133" width="1" height="49" fill="#a5443e"/>
<rect x="565" y="144" width="3" height="14" fill="#a5443e"/>
<rect x="570" y="118" width="1" height="92" fill="#3b884f"/>
<rect x="569" y="121" width="3" height="37" fill="#3b884f"/>
<rect x="574" y="105" width="1" height="42" fill="#3b884f"/>
<rect x="573" y="111" width="3" height="11" fill="#3b884f"/>
<rect x="578" y="83" width="1" height="31" fill="#3b884f"/>
<rect x="577" y="84" width="3" height="27" fill="#3b884f"/>
<rect x="582" y="85" width="1" height="11" fill="#3b884f"/>
<rect x="581" y="85" width="3" height="7" fill="#3b884f"/>
<rect x="586" y="79" width="1" height="16" fill="#3b884f"/>
<rect x="585" y="83" width="3" height="3" fill="#3b884f"/>
<rect x="590" y="72" width="1" height="37" fill="#a5443e"/>
<rect x="589" y="83" width="3" height="21" fill="#a5443e"/>
<rect x="594" y="99" width="1" height="53" fill="#a5443e"/>
<rect x="593" y="103" width="3" height="47" fill="#a5443e"/>
<rect x="598" y="139" width="1" height="49" fill="#a5443e"/>
<rect x="597" y="149" width="3" height="22" fill="#a5443e"/>
<rect x="602" y="170" width="1" height="21" fill="#a5443e"/>
<rect x="601" y="171" width="3" height="13" fill="#a5443e"/>
<rect x="606" y="177" width="1" height="30" fill="#a5443e"/>
<rect x="605" y="180" width="3" height="26" fill="#a5443e"/>
<rect x="610" y="201" width="1" height="49" fill="#a5443e"/>
<rect x="609" y="205" width="3" height="23" fill="#a5443e"/>
<rect x="614" y="224" width="1" height="48" fill="#a5443e"/>
<rect x="613" y="227" width="3" height="32" fill="#a5443e"/>
<rect x="618" y="244" width="1" height="71" fill="#a5443e"/>
<rect x="617" y="258" width="3" height="41" fill="#a5443e"/>
<rect x="622" y="209" width="1" height="94" fill="#3b884f"/>
<rect x="621" y="233" width="3" height="66" fill="#3b884f"/>
<rect x="626" y="223" width="1" height="15" fill="#3b884f"/>
<rect x="625" y="223" width="3" height="10" fill="#3b884f"/>
<rect x="630" y="218" width="1" height="11" fill="#3b884f"/>
<rect x="629" y="224" width="3" height="1" fill="#3b884f"/>
<rect x="634" y="217" width="1" height="39" fill="#a5443e"/>
<rect x="633" y="224" width="3" height="9" fill="#a5443e"/>
<rect x="638" y="212" width="1" height="28" fill="#a5443e"/>
<rect x="637" y="231" width="3" height="9" fill="#a5443e"/>
<polyline points="78.3,468.3 95.0,450.5 110.0,438.5 120.0,430.0 130.0,418.3 140.0,403.3 150.0,386.0 160.0,368.3 166.7,356.7 176.7,341.7 186.7,330.0 193.3,322.6 206.7,310.0 218.3,301.5 233.3,290.0 240.0,284.0 245.0,279.3 260.0,263.5 272.0,251.5 282.5,238.8 290.0,226.8 298.3,214.0 305.0,203.5 313.3,190.0 328.3,170.8 341.7,158.3 358.3,150.0 378.3,135.8 400.0,119.6 411.7,110.8 416.7,109.7 433.3,100.0 445.0,94.7 458.3,95.0 466.7,98.3 473.3,98.3 480.0,97.0 490.0,97.2 500.0,100.0 516.7,102.0 533.3,102.8 555.0,103.8 563.3,107.0 573.3,110.0 585.0,110.5 593.3,114.0 601.7,119.0 613.3,128.3 625.0,138.3 638.3,150.0" stroke="#aa583b" stroke-width="2.2" fill="none" stroke-linejoin="round" shape-rendering="geometricPrecision"/>
<polyline points="170.0,468.3 186.7,453.3 203.3,436.7 220.0,420.0 233.3,405.0 246.7,391.7 260.0,376.7 273.3,363.3 286.7,348.3 300.0,330.0 310.0,316.7 320.0,305.0 333.3,288.3 346.7,273.3 353.3,263.3 366.7,246.7 380.0,235.0 393.3,223.3 406.7,212.7 411.7,210.0 423.3,201.7 433.3,195.0 445.0,186.7 455.0,182.0 466.7,178.0 475.0,173.3 486.7,163.3 500.0,154.2 516.7,143.3 526.7,138.3 538.3,132.5 546.7,130.8 563.3,126.3 576.7,123.3 586.7,119.7 596.7,118.7 613.3,118.7 623.3,121.3 638.3,123.7" stroke="#98a41d" stroke-width="2.2" fill="none" stroke-linejoin="round" shape-rendering="geometricPrecision"/>
<polyline points="317.5,469.5 340.0,450.0 360.0,434.0 380.0,416.0 400.0,399.0 412.0,389.0 428.0,377.0 440.0,369.0 452.0,362.4 466.0,355.7 480.0,349.0 500.0,336.7 520.0,324.5 530.0,319.3 545.0,311.3 558.7,303.8 575.0,293.5 590.0,284.0 606.7,276.3 623.3,269.3 638.5,263.0" stroke="#e70467" stroke-width="2.25" fill="none" stroke-linejoin="round" shape-rendering="geometricPrecision"/>
<path d="M2 11.5H847" stroke="#458f45" stroke-dasharray="3 3" fill="none"/>
<path d="M2 45.5H847" stroke="#458f45" stroke-dasharray="3 3" fill="none"/>
<path d="M2 71.5H847" stroke="#458f45" stroke-dasharray="3 3" fill="none"/>
<path d="M2 87.5H847" stroke="#458f45" stroke-dasharray="3 3" fill="none"/>
<path d="M2 121.5H847" stroke="#458f45" stroke-dasharray="3 3" fill="none"/>
<path d="M2 134.5H847" stroke="#458f45" stroke-dasharray="3 3" fill="none"/>
<path d="M2 152.5H847" stroke="#458f45" stroke-dasharray="3 3" fill="none"/>
<path d="M2 187.5H847" stroke="#458f45" stroke-dasharray="3 3" fill="none"/>
<path d="M2 214.5H847" stroke="#458f45" stroke-dasharray="3 3" fill="none"/>
<path d="M2 238.5H847" stroke="#1784f7" stroke-dasharray="3 3" fill="none"/>
<path d="M2 277.5H847" stroke="#1784f7" stroke-dasharray="3 3" fill="none"/>
<path d="M2 323.5H847" stroke="#1784f7" stroke-dasharray="3 3" fill="none"/>
<rect x="3" y="240" width="844" height="1" fill="#1784f7"/>
<path d="M2 126.2L189.4 2.0" stroke="#980467" stroke-width="0.834" fill="none"/>
<path d="M2 332.26L503 1.22" stroke="#980467" stroke-width="0.834" fill="none"/>
<path d="M182 470.38L847 31.17" stroke="#980467" stroke-width="0.834" fill="none"/></g>
<rect x="278" y="24" width="308" height="25" fill="#ffc0cb"/>
<g clip-path="url(#cp)"><rect x="2" y="338" width="1" height="25" fill="#f0752a"/>
<rect x="1" y="338" width="3" height="25" fill="#f0752a"/>
<rect x="6" y="363" width="1" height="15" fill="#f0752a"/>
<rect x="5" y="363" width="3" height="9" fill="#f0752a"/>
<rect x="10" y="346" width="1" height="27" fill="#5cb31c"/>
<rect x="9" y="361" width="3" height="6" fill="#5cb31c"/>
<rect x="14" y="353" width="1" height="21" fill="#5cb31c"/>
<rect x="13" y="357" width="3" height="5" fill="#5cb31c"/>
<rect x="18" y="336" width="1" height="25" fill="#5cb31c"/>
<rect x="17" y="348" width="3" height="10" fill="#5cb31c"/>
<rect x="22" y="320" width="1" height="36" fill="#5cb31c"/>
<rect x="21" y="323" width="3" height="27" fill="#5cb31c"/>
<rect x="26" y="310" width="1" height="42" fill="#f0752a"/>
<rect x="25" y="324" width="3" height="19" fill="#f0752a"/>
<rect x="30" y="338" width="1" height="21" fill="#f0752a"/>
<rect x="29" y="342" width="3" height="10" fill="#f0752a"/>
<rect x="34" y="348" width="1" height="17" fill="#f0752a"/>
<rect x="33" y="352" width="3" height="7" fill="#f0752a"/>
<rect x="38" y="339" width="1" height="31" fill="#5cb31c"/>
<rect x="37" y="348" width="3" height="11" fill="#5cb31c"/>
<rect x="42" y="341" width="1" height="22" fill="#f0752a"/>
<rect x="41" y="348" width="3" height="2" fill="#f0752a"/>
<rect x="46" y="325" width="1" height="67" fill="#f0752a"/>
<rect x="45" y="349" width="3" height="40" fill="#f0752a"/>
<rect x="50" y="349" width="1" height="76" fill="#5cb31c"/>
<rect x="49" y="353" width="3" height="37" fill="#5cb31c"/>
<rect x="54" y="339" width="1" height="22" fill="#5cb31c"/>
<rect x="53" y="346" width="3" height="7" fill="#5cb31c"/>
<rect x="58" y="343" width="1" height="18" fill="#f0752a"/>
<rect x="57" y="347" width="3" height="10" fill="#f0752a"/>
<rect x="62" y="356" width="1" height="36" fill="#f0752a"/>
<rect x="61" y="356" width="3" height="19" fill="#f0752a"/>
<rect x="66" y="351" width="1" height="30" fill="#5cb31c"/>
<rect x="65" y="360" width="3" height="15" fill="#5cb31c"/>
<rect x="70" y="329" width="1" height="82" fill="#5cb31c"/>
<rect x="69" y="333" width="3" height="27" fill="#5cb31c"/>
<rect x="74" y="317" width="1" height="104" fill="#f0752a"/>
<rect x="73" y="333" width="3" height="83" fill="#f0752a"/>
<rect x="78" y="394" width="1" height="51" fill="#f0752a"/>
<rect x="77" y="415" width="3" height="19" fill="#f0752a"/>
<rect x="82" y="420" width="1" height="26" fill="#5cb31c"/>
<rect x="81" y="422" width="3" height="14" fill="#5cb31c"/>
<rect x="86" y="404" width="1" height="28" fill="#5cb31c"/>
<rect x="85" y="419" width="3" height="4" fill="#5cb31c"/>
<rect x="90" y="406" width="1" height="42" fill="#f0752a"/>
<rect x="89" y="419" width="3" height="18" fill="#f0752a"/>
<rect x="94" y="411" width="1" height="53" fill="#5cb31c"/>
<rect x="93" y="428" width="3" height="9" fill="#5cb31c"/>
<rect x="98" y="379" width="1" height="56" fill="#5cb31c"/>
<rect x="97" y="391" width="3" height="39" fill="#5cb31c"/>
<rect x="102" y="381" width="1" height="29" fill="#5cb31c"/>
<rect x="101" y="387" width="3" height="5" fill="#5cb31c"/>
<rect x="106" y="387" width="1" height="13" fill="#5cb31c"/>
<rect x="105" y="391" width="3" height="4" fill="#5cb31c"/>
<rect x="110" y="389" width="1" height="31" fill="#f0752a"/>
<rect x="109" y="391" width="3" height="11" fill="#f0752a"/>
<rect x="114" y="348" width="1" height="59" fill="#5cb31c"/>
<rect x="113" y="354" width="3" height="48" fill="#5cb31c"/>
<rect x="118" y="334" width="1" height="28" fill="#5cb31c"/>
<rect x="117" y="344" width="3" height="11" fill="#5cb31c"/>
<rect x="122" y="328" width="1" height="29" fill="#5cb31c"/>
<rect x="121" y="335" width="3" height="10" fill="#5cb31c"/>
<rect x="126" y="306" width="1" height="36" fill="#5cb31c"/>
<rect x="125" y="323" width="3" height="13" fill="#5cb31c"/>
<rect x="130" y="299" width="1" height="28" fill="#5cb31c"/>
<rect x="129" y="315" width="3" height="8" fill="#5cb31c"/>
<rect x="134" y="278" width="1" height="41" fill="#5cb31c"/>
<rect x="133" y="280" width="3" height="36" fill="#5cb31c"/>
<rect x="138" y="268" width="1" height="15" fill="#5cb31c"/>
<rect x="137" y="278" width="3" height="3" fill="#5cb31c"/>
<rect x="142" y="278" width="1" height="35" fill="#f0752a"/>
<rect x="141" y="278" width="3" height="32" fill="#f0752a"/>
<rect x="146" y="216" width="1" height="101" fill="#5cb31c"/>
<rect x="145" y="216" width="3" height="94" fill="#5cb31c"/>
<rect x="150" y="214" width="1" height="14" fill="#f0752a"/>
<rect x="149" y="216" width="3" height="6" fill="#f0752a"/>
<rect x="154" y="208" width="1" height="23" fill="#5cb31c"/>
<rect x="153" y="211" width="3" height="14" fill="#5cb31c"/>
<rect x="158" y="192" width="1" height="30" fill="#f0752a"/>
<rect x="157" y="212" width="3" height="5" fill="#f0752a"/>
<rect x="162" y="201" width="1" height="19" fill="#5cb31c"/>
<rect x="161" y="210" width="3" height="7" fill="#5cb31c"/>
<rect x="166" y="188" width="1" height="40" fill="#5cb31c"/>
<rect x="165" y="203" width="3" height="8" fill="#5cb31c"/>
<rect x="170" y="193" width="1" height="44" fill="#f0752a"/>
<rect x="169" y="203" width="3" height="17" fill="#f0752a"/>
<rect x="174" y="208" width="1" height="13" fill="#5cb31c"/>
<rect x="173" y="209" width="3" height="10" fill="#5cb31c"/>
<rect x="178" y="202" width="1" height="11" fill="#5cb31c"/>
<rect x="177" y="209" width="3" height="3" fill="#5cb31c"/>
<rect x="182" y="201" width="1" height="29" fill="#f0752a"/>
<rect x="181" y="209" width="3" height="7" fill="#f0752a"/>
<rect x="186" y="191" width="1" height="60" fill="#f0752a"/>
<rect x="185" y="216" width="3" height="21" fill="#f0752a"/>
<rect x="190" y="197" width="1" height="86" fill="#5cb31c"/>
<rect x="189" y="197" width="3" height="40" fill="#5cb31c"/>
<rect x="194" y="124" width="1" height="106" fill="#5cb31c"/>
<rect x="193" y="158" width="3" height="40" fill="#5cb31c"/>
<rect x="198" y="155" width="1" height="87" fill="#f0752a"/>
<rect x="197" y="158" width="3" height="50" fill="#f0752a"/>
<rect x="202" y="200" width="1" height="35" fill="#5cb31c"/>
<rect x="201" y="200" width="3" height="10" fill="#5cb31c"/>
<rect x="206" y="176" width="1" height="53" fill="#5cb31c"/>
<rect x="205" y="185" width="3" height="16" fill="#5cb31c"/>
<rect x="210" y="170" width="1" height="37" fill="#f0752a"/>
<rect x="209" y="185" width="3" height="15" fill="#f0752a"/>
<rect x="214" y="196" width="1" height="33" fill="#f0752a"/>
<rect x="213" y="199" width="3" height="4" fill="#f0752a"/>
<rect x="218" y="150" width="1" height="60" fill="#5cb31c"/>
<rect x="217" y="155" width="3" height="47" fill="#5cb31c"/>
<rect x="222" y="150" width="1" height="44" fill="#f0752a"/>
<rect x="221" y="155" width="3" height="23" fill="#f0752a"/>
<rect x="226" y="173" width="1" height="21" fill="#f0752a"/>
<rect x="225" y="178" width="3" height="12" fill="#f0752a"/>
<rect x="230" y="178" width="1" height="28" fill="#5cb31c"/>
<rect x="229" y="182" width="3" height="8" fill="#5cb31c"/>
<rect x="234" y="174" width="1" height="23" fill="#5cb31c"/>
<rect x="233" y="182" width="3" height="1" fill="#5cb31c"/>
<rect x="238" y="132" width="1" height="52" fill="#5cb31c"/>
<rect x="237" y="136" width="3" height="47" fill="#5cb31c"/>
<rect x="242" y="127" width="1" height="81" fill="#f0752a"/>
<rect x="241" y="136" width="3" height="61" fill="#f0752a"/>
<rect x="246" y="159" width="1" height="38" fill="#5cb31c"/>
<rect x="245" y="159" width="3" height="38" fill="#5cb31c"/>
<rect x="250" y="148" width="1" height="18" fill="#f0752a"/>
<rect x="249" y="158" width="3" height="5" fill="#f0752a"/>
<rect x="254" y="137" width="1" height="31" fill="#5cb31c"/>
<rect x="253" y="147" width="3" height="16" fill="#5cb31c"/>
<rect x="258" y="140" width="1" height="48" fill="#f0752a"/>
<rect x="257" y="147" width="3" height="30" fill="#f0752a"/>
<rect x="262" y="140" width="1" height="41" fill="#5cb31c"/>
<rect x="261" y="166" width="3" height="11" fill="#5cb31c"/>
<rect x="266" y="143" width="1" height="33" fill="#5cb31c"/>
<rect x="265" y="150" width="3" height="17" fill="#5cb31c"/>
<rect x="270" y="147" width="1" height="15" fill="#f0752a"/>
<rect x="269" y="148" width="3" height="14" fill="#f0752a"/>
<rect x="274" y="160" width="1" height="23" fill="#f0752a"/>
<rect x="273" y="164" width="3" height="9" fill="#f0752a"/>
<rect x="278" y="166" width="1" height="32" fill="#5cb31c"/>
<rect x="277" y="168" width="3" height="5" fill="#5cb31c"/>
<rect x="282" y="136" width="1" height="59" fill="#5cb31c"/>
<rect x="281" y="155" width="3" height="13" fill="#5cb31c"/>
<rect x="286" y="146" width="1" height="22" fill="#5cb31c"/>
<rect x="285" y="152" width="3" height="4" fill="#5cb31c"/>
<rect x="290" y="100" width="1" height="68" fill="#5cb31c"/>
<rect x="289" y="102" width="3" height="50" fill="#5cb31c"/>
<rect x="294" y="82" width="1" height="22" fill="#5cb31c"/>
<rect x="293" y="86" width="3" height="16" fill="#5cb31c"/>
<rect x="298" y="82" width="1" height="15" fill="#f0752a"/>
<rect x="297" y="88" width="3" height="5" fill="#f0752a"/>
<rect x="302" y="51" width="1" height="42" fill="#5cb31c"/>
<rect x="301" y="56" width="3" height="37" fill="#5cb31c"/>
<rect x="306" y="40" width="1" height="42" fill="#5cb31c"/>
<rect x="305" y="56" width="3" height="1" fill="#5cb31c"/>
<rect x="310" y="30" width="1" height="39" fill="#5cb31c"/>
<rect x="309" y="50" width="3" height="7" fill="#5cb31c"/>
<rect x="314" y="49" width="1" height="39" fill="#f0752a"/>
<rect x="313" y="50" width="3" height="24" fill="#f0752a"/>
<rect x="318" y="70" width="1" height="52" fill="#f0752a"/>
<rect x="317" y="73" width="3" height="25" fill="#f0752a"/>
<rect x="322" y="93" width="1" height="17" fill="#f0752a"/>
<rect x="321" y="102" width="3" height="5" fill="#f0752a"/>
<rect x="326" y="85" width="1" height="31" fill="#5cb31c"/>
<rect x="325" y="86" width="3" height="20" fill="#5cb31c"/>
<rect x="330" y="68" width="1" height="41" fill="#f0752a"/>
<rect x="329" y="86" width="3" height="12" fill="#f0752a"/>
<rect x="334" y="88" width="1" height="40" fill="#5cb31c"/>
<rect x="333" y="94" width="3" height="4" fill="#5cb31c"/>
<rect x="338" y="88" width="1" height="44" fill="#f0752a"/>
<rect x="337" y="93" width="3" height="26" fill="#f0752a"/>
<rect x="342" y="88" width="1" height="32" fill="#5cb31c"/>
<rect x="341" y="98" width="3" height="21" fill="#5cb31c"/>
<rect x="346" y="89" width="1" height="12" fill="#f0752a"/>
<rect x="345" y="96" width="3" height="1" fill="#f0752a"/>
<rect x="350" y="91" width="1" height="24" fill="#f0752a"/>
<rect x="349" y="96" width="3" height="17" fill="#f0752a"/>
<rect x="354" y="105" width="1" height="29" fill="#5cb31c"/>
<rect x="353" y="110" width="3" height="3" fill="#5cb31c"/>
<rect x="358" y="98" width="1" height="60" fill="#f0752a"/>
<rect x="357" y="110" width="3" height="3" fill="#f0752a"/>
<rect x="362" y="80" width="1" height="45" fill="#5cb31c"/>
<rect x="361" y="84" width="3" height="29" fill="#5cb31c"/>
<rect x="366" y="58" width="1" height="26" fill="#5cb31c"/>
<rect x="365" y="71" width="3" height="13" fill="#5cb31c"/>
<rect x="370" y="59" width="1" height="15" fill="#5cb31c"/>
<rect x="369" y="63" width="3" height="11" fill="#5cb31c"/>
<rect x="374" y="39" width="1" height="26" fill="#5cb31c"/>
<rect x="373" y="55" width="3" height="9" fill="#5cb31c"/>
<rect x="378" y="49" width="1" height="21" fill="#f0752a"/>
<rect x="377" y="55" width="3" height="2" fill="#f0752a"/>
<rect x="382" y="54" width="1" height="21" fill="#f0752a"/>
<rect x="381" y="56" width="3" height="6" fill="#f0752a"/>
<rect x="386" y="54" width="1" height="15" fill="#5cb31c"/>
<rect x="385" y="59" width="3" height="3" fill="#5cb31c"/>
<rect x="390" y="47" width="1" height="11" fill="#5cb31c"/>
<rect x="389" y="49" width="3" height="4" fill="#5cb31c"/>
<rect x="394" y="23" width="1" height="36" fill="#5cb31c"/>
<rect x="393" y="39" width="3" height="11" fill="#5cb31c"/>
<rect x="398" y="14" width="1" height="48" fill="#5cb31c"/>
<rect x="397" y="35" width="3" height="5" fill="#5cb31c"/>
<rect x="402" y="33" width="1" height="33" fill="#f0752a"/>
<rect x="401" y="35" width="3" height="7" fill="#f0752a"/>
<rect x="406" y="33" width="1" height="80" fill="#f0752a"/>
<rect x="405" y="40" width="3" height="30" fill="#f0752a"/>
<rect x="410" y="68" width="1" height="20" fill="#f0752a"/>
<rect x="409" y="69" width="3" height="16" fill="#f0752a"/>
<rect x="414" y="82" width="1" height="11" fill="#f0752a"/>
<rect x="413" y="83" width="3" height="5" fill="#f0752a"/>
<rect x="418" y="74" width="1" height="27" fill="#f0752a"/>
<rect x="417" y="88" width="3" height="12" fill="#f0752a"/>
<rect x="422" y="80" width="1" height="25" fill="#5cb31c"/>
<rect x="421" y="98" width="3" height="2" fill="#5cb31c"/>
<rect x="426" y="54" width="1" height="54" fill="#5cb31c"/>
<rect x="425" y="64" width="3" height="35" fill="#5cb31c"/>
<rect x="430" y="45" width="1" height="37" fill="#5cb31c"/>
<rect x="429" y="56" width="3" height="9" fill="#5cb31c"/>
<rect x="434" y="45" width="1" height="16" fill="#5cb31c"/>
<rect x="433" y="47" width="3" height="10" fill="#5cb31c"/>
<rect x="438" y="44" width="1" height="10" fill="#5cb31c"/>
<rect x="437" y="48" width="3" height="5" fill="#5cb31c"/>
<rect x="442" y="43" width="1" height="26" fill="#f0752a"/>
<rect x="441" y="48" width="3" height="21" fill="#f0752a"/>
<rect x="446" y="66" width="1" height="56" fill="#f0752a"/>
<rect x="445" y="68" width="3" height="40" fill="#f0752a"/>
<rect x="450" y="91" width="1" height="67" fill="#f0752a"/>
<rect x="449" y="107" width="3" height="51" fill="#f0752a"/>
<rect x="454" y="151" width="1" height="78" fill="#f0752a"/>
<rect x="453" y="158" width="3" height="47" fill="#f0752a"/>
<rect x="458" y="191" width="1" height="17" fill="#f0752a"/>
<rect x="457" y="204" width="3" height="2" fill="#f0752a"/>
<rect x="462" y="200" width="1" height="15" fill="#f0752a"/>
<rect x="461" y="202" width="3" height="10" fill="#f0752a"/>
<rect x="466" y="200" width="1" height="69" fill="#f0752a"/>
<rect x="465" y="211" width="3" height="4" fill="#f0752a"/>
<rect x="470" y="188" width="1" height="39" fill="#5cb31c"/>
<rect x="469" y="210" width="3" height="5" fill="#5cb31c"/>
<rect x="474" y="142" width="1" height="73" fill="#5cb31c"/>
<rect x="473" y="148" width="3" height="63" fill="#5cb31c"/>
<rect x="478" y="98" width="1" height="50" fill="#5cb31c"/>
<rect x="477" y="127" width="3" height="21" fill="#5cb31c"/>
<rect x="482" y="115" width="1" height="17" fill="#5cb31c"/>
<rect x="481" y="119" width="3" height="9" fill="#5cb31c"/>
<rect x="486" y="118" width="1" height="13" fill="#f0752a"/>
<rect x="485" y="120" width="3" height="2" fill="#f0752a"/>
<rect x="490" y="117" width="1" height="29" fill="#f0752a"/>
<rect x="489" y="122" width="3" height="20" fill="#f0752a"/>
<rect x="494" y="136" width="1" height="22" fill="#f0752a"/>
<rect x="493" y="142" width="3" height="6" fill="#f0752a"/>
<rect x="498" y="132" width="1" height="23" fill="#5cb31c"/>
<rect x="497" y="135" width="3" height="13" fill="#5cb31c"/>
<rect x="502" y="102" width="1" height="40" fill="#5cb31c"/>
<rect x="501" y="104" width="3" height="34" fill="#5cb31c"/>
<rect x="506" y="82" width="1" height="24" fill="#5cb31c"/>
<rect x="505" y="88" width="3" height="17" fill="#5cb31c"/>
<rect x="510" y="77" width="1" height="14" fill="#5cb31c"/>
<rect x="509" y="77" width="3" height="13" fill="#5cb31c"/>
<rect x="514" y="69" width="1" height="31" fill="#f0752a"/>
<rect x="513" y="77" width="3" height="19" fill="#f0752a"/>
<rect x="518" y="89" width="1" height="38" fill="#f0752a"/>
<rect x="517" y="95" width="3" height="20" fill="#f0752a"/>
<rect x="522" y="68" width="1" height="59" fill="#5cb31c"/>
<rect x="521" y="112" width="3" height="4" fill="#5cb31c"/>
<rect x="526" y="98" width="1" height="54" fill="#f0752a"/>
<rect x="525" y="112" width="3" height="4" fill="#f0752a"/>
<rect x="530" y="108" width="1" height="10" fill="#5cb31c"/>
<rect x="529" y="112" width="3" height="4" fill="#5cb31c"/>
<rect x="534" y="104" width="1" height="17" fill="#5cb31c"/>
<rect x="533" y="104" width="3" height="14" fill="#5cb31c"/>
<rect x="538" y="98" width="1" height="21" fill="#f0752a"/>
<rect x="537" y="103" width="3" height="7" fill="#f0752a"/>
<rect x="542" y="104" width="1" height="26" fill="#f0752a"/>
<rect x="541" y="108" width="3" height="20" fill="#f0752a"/>
<rect x="546" y="100" width="1" height="37" fill="#5cb31c"/>
<rect x="545" y="109" width="3" height="19" fill="#5cb31c"/>
<rect x="550" y="88" width="1" height="46" fill="#f0752a"/>
<rect x="549" y="109" width="3" height="12" fill="#f0752a"/>
<rect x="554" y="111" width="1" height="21" fill="#f0752a"/>
<rect x="553" y="121" width="3" height="6" fill="#f0752a"/>
<rect x="558" y="129" width="1" height="18" fill="#f0752a"/>
<rect x="557" y="132" width="3" height="10" fill="#f0752a"/>
<rect x="562" y="130" width="1" height="20" fill="#f0752a"/>
<rect x="561" y="142" width="3" height="3" fill="#f0752a"/>
<rect x="566" y="133" width="1" height="49" fill="#f0752a"/>
<rect x="565" y="144" width="3" height="14" fill="#f0752a"/>
<rect x="570" y="118" width="1" height="92" fill="#5cb31c"/>
<rect x="569" y="121" width="3" height="37" fill="#5cb31c"/>
<rect x="574" y="105" width="1" height="42" fill="#5cb31c"/>
<rect x="573" y="111" width="3" height="11" fill="#5cb31c"/>
<rect x="578" y="83" width="1" height="31" fill="#5cb31c"/>
<rect x="577" y="84" width="3" height="27" fill="#5cb31c"/>
<rect x="582" y="85" width="1" height="11" fill="#5cb31c"/>
<rect x="581" y="85" width="3" height="7" fill="#5cb31c"/>
<rect x="586" y="79" width="1" height="16" fill="#5cb31c"/>
<rect x="585" y="83" width="3" height="3" fill="#5cb31c"/>
<rect x="590" y="72" width="1" height="37" fill="#f0752a"/>
<rect x="589" y="83" width="3" height="21" fill="#f0752a"/>
<rect x="594" y="99" width="1" height="53" fill="#f0752a"/>
<rect x="593" y="103" width="3" height="47" fill="#f0752a"/>
<rect x="598" y="139" width="1" height="49" fill="#f0752a"/>
<rect x="597" y="149" width="3" height="22" fill="#f0752a"/>
<rect x="602" y="170" width="1" height="21" fill="#f0752a"/>
<rect x="601" y="171" width="3" height="13" fill="#f0752a"/>
<rect x="606" y="177" width="1" height="30" fill="#f0752a"/>
<rect x="605" y="180" width="3" height="26" fill="#f0752a"/>
<rect x="610" y="201" width="1" height="49" fill="#f0752a"/>
<rect x="609" y="205" width="3" height="23" fill="#f0752a"/>
<rect x="614" y="224" width="1" height="48" fill="#f0752a"/>
<rect x="613" y="227" width="3" height="32" fill="#f0752a"/>
<rect x="618" y="244" width="1" height="71" fill="#f0752a"/>
<rect x="617" y="258" width="3" height="41" fill="#f0752a"/>
<rect x="622" y="209" width="1" height="94" fill="#5cb31c"/>
<rect x="621" y="233" width="3" height="66" fill="#5cb31c"/>
<rect x="626" y="223" width="1" height="15" fill="#5cb31c"/>
<rect x="625" y="223" width="3" height="10" fill="#5cb31c"/>
<rect x="630" y="218" width="1" height="11" fill="#5cb31c"/>
<rect x="629" y="224" width="3" height="1" fill="#5cb31c"/>
<rect x="634" y="217" width="1" height="39" fill="#f0752a"/>
<rect x="633" y="224" width="3" height="9" fill="#f0752a"/>
<rect x="638" y="212" width="1" height="28" fill="#f0752a"/>
<rect x="637" y="231" width="3" height="9" fill="#f0752a"/>
<polyline points="78.3,468.3 95.0,450.5 110.0,438.5 120.0,430.0 130.0,418.3 140.0,403.3 150.0,386.0 160.0,368.3 166.7,356.7 176.7,341.7 186.7,330.0 193.3,322.6 206.7,310.0 218.3,301.5 233.3,290.0 240.0,284.0 245.0,279.3 260.0,263.5 272.0,251.5 282.5,238.8 290.0,226.8 298.3,214.0 305.0,203.5 313.3,190.0 328.3,170.8 341.7,158.3 358.3,150.0 378.3,135.8 400.0,119.6 411.7,110.8 416.7,109.7 433.3,100.0 445.0,94.7 458.3,95.0 466.7,98.3 473.3,98.3 480.0,97.0 490.0,97.2 500.0,100.0 516.7,102.0 533.3,102.8 555.0,103.8 563.3,107.0 573.3,110.0 585.0,110.5 593.3,114.0 601.7,119.0 613.3,128.3 625.0,138.3 638.3,150.0" stroke="#cd6368" stroke-width="2.2" fill="none" stroke-linejoin="round" shape-rendering="geometricPrecision"/>
<polyline points="170.0,468.3 186.7,453.3 203.3,436.7 220.0,420.0 233.3,405.0 246.7,391.7 260.0,376.7 273.3,363.3 286.7,348.3 300.0,330.0 310.0,316.7 320.0,305.0 333.3,288.3 346.7,273.3 353.3,263.3 366.7,246.7 380.0,235.0 393.3,223.3 406.7,212.7 411.7,210.0 423.3,201.7 433.3,195.0 445.0,186.7 455.0,182.0 466.7,178.0 475.0,173.3 486.7,163.3 500.0,154.2 516.7,143.3 526.7,138.3 538.3,132.5 546.7,130.8 563.3,126.3 576.7,123.3 586.7,119.7 596.7,118.7 613.3,118.7 623.3,121.3 638.3,123.7" stroke="#ff9f4e" stroke-width="2.2" fill="none" stroke-linejoin="round" shape-rendering="geometricPrecision"/>
<polyline points="317.5,469.5 340.0,450.0 360.0,434.0 380.0,416.0 400.0,399.0 412.0,389.0 428.0,377.0 440.0,369.0 452.0,362.4 466.0,355.7 480.0,349.0 500.0,336.7 520.0,324.5 530.0,319.3 545.0,311.3 558.7,303.8 575.0,293.5 590.0,284.0 606.7,276.3 623.3,269.3 638.5,263.0" stroke="#803f34" stroke-width="2.25" fill="none" stroke-linejoin="round" shape-rendering="geometricPrecision"/>
<path d="M2 11.5H847" stroke="#22b416" stroke-dasharray="3 3" fill="none"/>
<path d="M2 45.5H847" stroke="#22b416" stroke-dasharray="3 3" fill="none"/>
<path d="M2 71.5H847" stroke="#22b416" stroke-dasharray="3 3" fill="none"/>
<path d="M2 87.5H847" stroke="#22b416" stroke-dasharray="3 3" fill="none"/>
<path d="M2 121.5H847" stroke="#22b416" stroke-dasharray="3 3" fill="none"/>
<path d="M2 134.5H847" stroke="#22b416" stroke-dasharray="3 3" fill="none"/>
<path d="M2 152.5H847" stroke="#22b416" stroke-dasharray="3 3" fill="none"/>
<path d="M2 187.5H847" stroke="#22b416" stroke-dasharray="3 3" fill="none"/>
<path d="M2 214.5H847" stroke="#22b416" stroke-dasharray="3 3" fill="none"/>
<path d="M2 238.5H847" stroke="#70bfa4" stroke-dasharray="3 3" fill="none"/>
<path d="M2 277.5H847" stroke="#70bfa4" stroke-dasharray="3 3" fill="none"/>
<path d="M2 323.5H847" stroke="#70bfa4" stroke-dasharray="3 3" fill="none"/>
<rect x="3" y="240" width="844" height="1" fill="#70bfa4"/>
<path d="M2 126.2L189.4 2.0" stroke="#ff3f34" stroke-width="0.834" fill="none"/>
<path d="M2 332.26L503 1.22" stroke="#ff3f34" stroke-width="0.834" fill="none"/>
<path d="M182 470.38L847 31.17" stroke="#ff3f34" stroke-width="0.834" fill="none"/></g>
<path d="M398 14.1L847 207.4" stroke="#ff0000" stroke-width="0.918" fill="none"/>
<path d="M282 184.5L847 429.5" stroke="#ff0000" stroke-width="0.918" fill="none"/>
</g>
<rect x="2" y="2" width="846" height="1" fill="#2f4f4f"/>
<rect x="2" y="469" width="846" height="1" fill="#2f4f4f"/>
<rect x="2" y="2" width="1" height="468" fill="#2f4f4f"/>
<rect x="847" y="2" width="1" height="468" fill="#2f4f4f"/>
<rect x="2" y="471" width="846" height="1" fill="#2f4f4f"/>
<rect x="2" y="579" width="846" height="1" fill="#2f4f4f"/>
<rect x="2" y="471" width="1" height="109" fill="#2f4f4f"/>
<rect x="847" y="471" width="1" height="109" fill="#2f4f4f"/>
<path d="M2 503.5H847" stroke="#c0c0c0" stroke-dasharray="3 3" fill="none"/>
<path d="M2 547.5H847" stroke="#c0c0c0" stroke-dasharray="3 3" fill="none"/>
<polyline points="3.3,499.8 7.3,500.7 11.0,500.2 18.3,499.3 22.4,497.0 27.5,503.0 33.0,506.2 42.2,506.2 46.2,517.6 50.4,511.2 55.0,511.2 62.3,517.6 66.0,515.7 70.0,511.5 74.3,528.6 78.5,531.0 83.4,529.0 86.2,529.1 89.8,531.0 94.4,531.0 99.0,522.5 105.4,522.2 110.0,523.6 114.6,515.2 119.2,514.0 126.5,510.6 130.5,509.7 134.8,504.8 138.4,503.8 142.1,513.0 146.1,502.4 155.8,502.0 157.7,502.9 163.7,501.6 167.3,502.0 170.0,505.7 174.7,505.7 177.4,504.8 182.0,507.5 186.6,513.0 193.9,502.9 198.0,513.9 201.3,513.9 205.8,512.0 211.3,514.8 215.0,514.8 218.7,508.8 223.3,513.9 227.0,515.8 230.6,515.8 235.2,514.5 238.3,508.8 242.5,521.3 248.0,516.0 254.4,514.8 258.5,520.0 265.4,517.0 269.0,517.6 274.6,521.3 277.3,521.3 282.8,517.6 286.5,516.7 290.5,508.4 294.8,507.1 299.0,508.0 303.9,502.9 311.3,502.4 315.0,510.3 319.1,517.2 322.3,518.1 326.8,514.8 330.6,518.0 334.7,518.1 338.3,523.1 342.9,518.9 347.1,518.9 350.3,523.1 358.9,523.1 362.5,516.7 366.8,513.4 371.3,511.2 376.8,509.9 382.3,512.1 386.9,511.7 392.4,508.4 397.0,507.1 400.7,507.5 402.9,509.3 406.2,520.3 410.8,526.8 413.9,527.1 419.0,531.0 422.7,530.4 426.0,520.0 430.0,516.7 433.7,514.8 438.8,514.8 442.5,522.5 446.5,534.1 450.5,544.2 453.8,549.7 458.4,550.2 463.9,551.9 467.6,551.9 470.3,550.0 474.0,530.4 479.5,525.5 485.5,524.0 491.0,529.5 494.7,529.9 498.0,528.0 502.4,519.4 507.5,515.8 510.8,514.8 517.6,523.6 530.4,523.6 534.5,522.2 538.3,523.5 542.3,529.1 546.4,524.0 550.6,526.8 558.8,532.8 562.5,533.2 566.2,535.6 570.2,524.6 574.4,521.8 579.0,515.2 586.3,514.8 590.6,523.1 594.0,534.1 599.2,538.7 601.9,540.0 608.3,545.6 610.5,546.9 617.9,554.8 622.1,538.7 628.5,535.9 634.0,537.7 638.6,538.1" stroke="#000" stroke-width="1.9" fill="none" stroke-linejoin="round" shape-rendering="geometricPrecision"/>
<rect x="848" y="21" width="4" height="1" fill="#2f4f4f"/>
<rect x="848" y="53" width="4" height="1" fill="#2f4f4f"/>
<rect x="848" y="85" width="4" height="1" fill="#2f4f4f"/>
<rect x="848" y="117" width="4" height="1" fill="#2f4f4f"/>
<rect x="848" y="149" width="4" height="1" fill="#2f4f4f"/>
<rect x="848" y="181" width="4" height="1" fill="#2f4f4f"/>
<rect x="848" y="213" width="4" height="1" fill="#2f4f4f"/>
<rect x="848" y="245" width="4" height="1" fill="#2f4f4f"/>
<rect x="848" y="277" width="4" height="1" fill="#2f4f4f"/>
<rect x="848" y="309" width="4" height="1" fill="#2f4f4f"/>
<rect x="848" y="341" width="4" height="1" fill="#2f4f4f"/>
<rect x="848" y="373" width="4" height="1" fill="#2f4f4f"/>
<rect x="848" y="405" width="4" height="1" fill="#2f4f4f"/>
<rect x="848" y="437" width="4" height="1" fill="#2f4f4f"/>
<rect x="848" y="471" width="4" height="1" fill="#2f4f4f"/>
<rect x="848" y="503" width="4" height="1" fill="#2f4f4f"/>
<rect x="848" y="547" width="4" height="1" fill="#2f4f4f"/>
<rect x="848" y="579" width="4" height="1" fill="#2f4f4f"/>
<rect x="2" y="580" width="1" height="4" fill="#2f4f4f"/>
<rect x="66" y="580" width="1" height="4" fill="#2f4f4f"/>
<rect x="130" y="580" width="1" height="4" fill="#2f4f4f"/>
<rect x="194" y="580" width="1" height="4" fill="#2f4f4f"/>
<rect x="258" y="580" width="1" height="4" fill="#2f4f4f"/>
<rect x="322" y="580" width="1" height="4" fill="#2f4f4f"/>
<rect x="386" y="580" width="1" height="4" fill="#2f4f4f"/>
<rect x="450" y="580" width="1" height="4" fill="#2f4f4f"/>
<rect x="514" y="580" width="1" height="4" fill="#2f4f4f"/>
<rect x="578" y="580" width="1" height="4" fill="#2f4f4f"/>
</g>
<text x="853.2" y="24.7">1915.01</text>
<text x="853.2" y="56.7">1907.31</text>
<text x="853.2" y="88.7">1899.61</text>
<text x="853.2" y="120.7">1891.91</text>
<text x="853.2" y="152.7">1884.21</text>
<text x="853.2" y="184.7">1876.51</text>
<text x="853.2" y="216.7">1868.81</text>
<text x="853.2" y="248.7">1861.11</text>
<text x="853.2" y="280.7">1853.41</text>
<text x="853.2" y="312.7">1845.71</text>
<text x="853.2" y="344.7">1838.01</text>
<text x="853.2" y="376.7">1830.31</text>
<text x="853.2" y="408.7">1822.61</text>
<text x="853.2" y="440.7">1814.91</text>
<g shape-rendering="crispEdges">
<rect x="850" y="6" width="39" height="11" fill="#228b22"/>
<rect x="850" y="40" width="39" height="11" fill="#228b22"/>
<rect x="850" y="66" width="39" height="11" fill="#228b22"/>
<rect x="850" y="82" width="39" height="11" fill="#228b22"/>
<rect x="850" y="116" width="39" height="11" fill="#228b22"/>
<rect x="850" y="129" width="39" height="11" fill="#228b22"/>
<rect x="850" y="147" width="39" height="11" fill="#228b22"/>
<rect x="850" y="182" width="39" height="11" fill="#228b22"/>
<rect x="850" y="209" width="39" height="11" fill="#228b22"/>
<rect x="850" y="233" width="39" height="13" fill="#708090"/>
<rect x="850" y="272" width="39" height="11" fill="#708090"/>
<rect x="850" y="318" width="39" height="11" fill="#708090"/>
</g>
<text class="w" x="853.2" y="14.6">1917.34</text>
<text class="w" x="853.2" y="48.6">1909.19</text>
<text class="w" x="853.2" y="74.6">1903.00</text>
<text class="w" x="853.2" y="90.6">1899.18</text>
<text class="w" x="853.2" y="124.6">1890.77</text>
<text class="w" x="853.2" y="137.6">1887.87</text>
<text class="w" x="853.2" y="155.6">1883.35</text>
<text class="w" x="853.2" y="190.6">1874.90</text>
<text class="w" x="853.2" y="217.6">1868.50</text>
<text class="w" x="853.2" y="241.6">1862.69</text>
<text class="w" x="853.2" y="280.6">1853.34</text>
<text class="w" x="853.2" y="326.6">1842.36</text>
<text x="853.2" y="480">100.00</text><text x="853.2" y="506.8">70.00</text><text x="853.2" y="550.8">30.00</text><text x="853.2" y="577">0.00</text>
<text x="5.5" y="483.6" style="letter-spacing:-0.23px">RSI(14) 37.55</text>
<text x="1.6" y="592" style="letter-spacing:-0.17px">7 May 2021</text>
<text x="65.8" y="592" style="letter-spacing:-0.17px">12 May 08:00</text>
<text x="129.8" y="592" style="letter-spacing:-0.17px">17 May 00:00</text>
<text x="193.8" y="592" style="letter-spacing:-0.17px">19 May 16:00</text>
<text x="257.8" y="592" style="letter-spacing:-0.17px">24 May 08:00</text>
<text x="321.8" y="592" style="letter-spacing:-0.17px">27 May 00:00</text>
<text x="385.8" y="592" style="letter-spacing:-0.17px">31 May 16:00</text>
<text x="449.8" y="592" style="letter-spacing:-0.17px">3 Jun 12:00</text>
<text x="513.8" y="592" style="letter-spacing:-0.17px">8 Jun 04:00</text>
<text x="577.8" y="592" style="letter-spacing:-0.17px">10 Jun 20:00</text>
</svg></body></html>
